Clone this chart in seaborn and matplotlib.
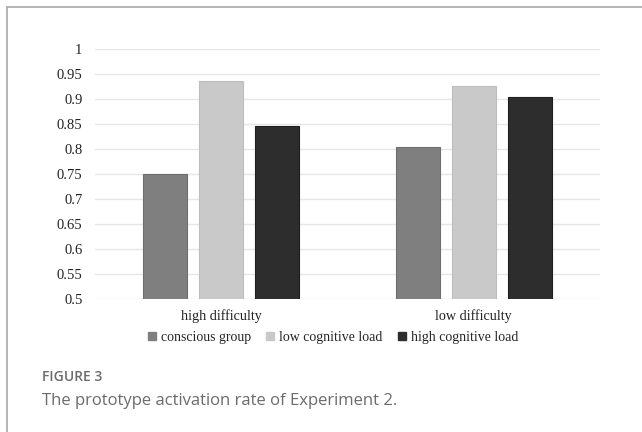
import matplotlib
matplotlib.use("Agg")
import matplotlib.pyplot as plt
import seaborn as sns
import pandas as pd
from matplotlib.lines import Line2D

# Prototype activation rate, Experiment 2
difficulty = ["high difficulty", "low difficulty"]
groups = ["conscious group", "low cognitive load", "high cognitive load"]
conscious_group = [0.751, 0.805]
low_cognitive_load = [0.937, 0.927]
high_cognitive_load = [0.847, 0.904]
yticks = [0.5, 0.55, 0.6, 0.65, 0.7, 0.75, 0.8, 0.85, 0.9, 0.95, 1.0]

colors = {"conscious group": "#7f7f7f",
          "low cognitive load": "#c9c9c9",
          "high cognitive load": "#2d2d2d"}
edges = {"conscious group": "#6e6e6e",
         "low cognitive load": "#bdbdbd",
         "high cognitive load": "#1f1f1f"}

rows = []
for g, vals in zip(groups, [conscious_group, low_cognitive_load, high_cognitive_load]):
    for d, v in zip(difficulty, vals):
        rows.append({"difficulty": d, "group": g, "rate": v})
df = pd.DataFrame(rows)

sns.set_theme(style="white")
serif = ["Liberation Serif", "DejaVu Serif"]
plt.rcParams["font.family"] = serif

W, H = 642, 432
fig = plt.figure(figsize=(W / 100, H / 100), dpi=100)
fig.patch.set_facecolor("white")

ax = fig.add_axes([95 / W, (H - 299) / H, 505 / W, 250 / H])
sns.barplot(data=df, x="difficulty", y="rate", hue="group", order=difficulty,
            hue_order=groups, palette=colors, errorbar=None, width=0.665,
            gap=0.216, ax=ax, legend=False, zorder=3)
for container, g in zip(ax.containers, groups):
    for bar in container:
        bar.set_edgecolor(edges[g])
        bar.set_linewidth(0.8)

ax.set_ylim(0.5, 1.0)
ax.set_xlim(-0.5, 1.5)
ax.set_yticks(yticks)
ax.set_yticklabels([f"{t:g}" for t in yticks])
ax.yaxis.grid(True, color="#e6e6e6", linewidth=1.0, zorder=0)
ax.set_axisbelow(True)
for s in ax.spines.values():
    s.set_visible(False)
ax.tick_params(axis="y", length=0, labelsize=10.5, colors="#222222", pad=9)
ax.tick_params(axis="x", length=0, labelsize=10.2, colors="#222222", pad=7)
ax.set_xlabel("")
ax.set_ylabel("")

handles = [Line2D([], [], marker="s", linestyle="none", markersize=5.5,
                  markerfacecolor=colors[g], markeredgecolor=colors[g])
           for g in groups]
fig.legend(handles, groups, loc="center", bbox_to_anchor=(333 / W, 1 - 337 / H),
           ncol=3, frameon=False, fontsize=10, handletextpad=0.35,
           columnspacing=1.1, handlelength=0.6)

# Caption block
fig.text(42 / W, 1 - 377 / H, "FIGURE 3", family=["Open Sans", "DejaVu Sans"],
         fontsize=10, weight="semibold", color="#6b6b6b", va="center", ha="left")
fig.text(42 / W, 1 - 401 / H, "The prototype activation rate of Experiment 2.",
         family=["Open Sans", "DejaVu Sans"], fontsize=12, color="#6b6b6b",
         va="center", ha="left")

# Card border on the left and top
fig.add_artist(Line2D([7 / W, 7 / W], [0, 1 - 7 / H], transform=fig.transFigure,
                      color="#a8a8a8", linewidth=1.2))
fig.add_artist(Line2D([7 / W, 1], [1 - 7 / H, 1 - 7 / H], transform=fig.transFigure,
                      color="#a8a8a8", linewidth=1.2))

fig.savefig("out.png", dpi=100)
